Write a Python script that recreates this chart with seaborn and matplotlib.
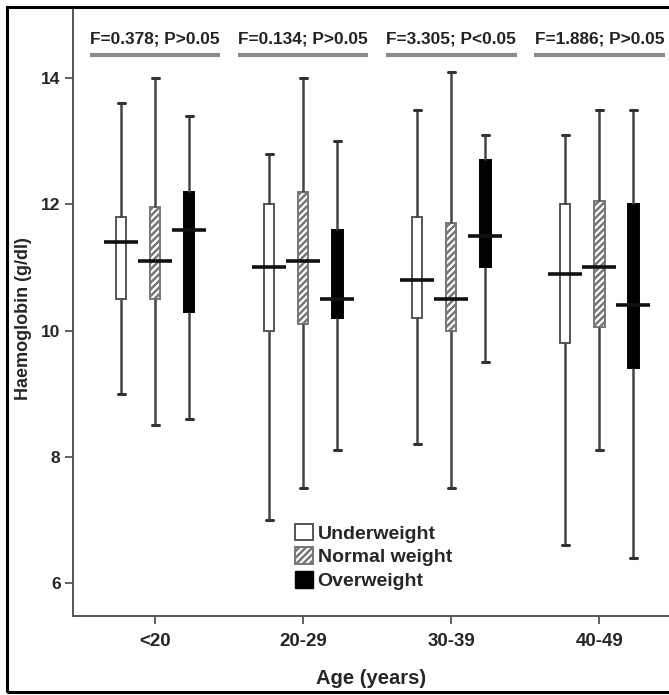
import numpy as np
import pandas as pd
import seaborn as sns
import matplotlib.pyplot as plt
from matplotlib.patches import Patch, Rectangle

# categories
age_groups = ["<20", "20-29", "30-39", "40-49"]
bmi_groups = ["Underweight", "Normal weight", "Overweight"]

# five-number summaries per BMI group, one value per age group
uw_min = [9.0, 7.0, 8.2, 6.6]
uw_q1 = [10.5, 10.0, 10.2, 9.8]
uw_med = [11.4, 11.0, 10.8, 10.9]
uw_q3 = [11.8, 12.0, 11.8, 12.0]
uw_max = [13.6, 12.8, 13.5, 13.1]

nw_min = [8.5, 7.5, 7.5, 8.1]
nw_q1 = [10.5, 10.1, 10.0, 10.05]
nw_med = [11.1, 11.1, 10.5, 11.0]
nw_q3 = [11.95, 12.2, 11.7, 12.05]
nw_max = [14.0, 14.0, 14.1, 13.5]

ow_min = [8.6, 8.1, 9.5, 6.4]
ow_q1 = [10.3, 10.2, 11.0, 9.4]
ow_med = [11.6, 10.5, 11.5, 10.4]
ow_q3 = [12.2, 11.6, 12.7, 12.0]
ow_max = [13.4, 13.0, 13.1, 13.5]

# ANOVA labels above each age group
anova_labels = ["F=0.378; P>0.05", "F=0.134; P>0.05", "F=3.305; P<0.05", "F=1.886; P>0.05"]

summaries = {
    "Underweight": (uw_min, uw_q1, uw_med, uw_q3, uw_max),
    "Normal weight": (nw_min, nw_q1, nw_med, nw_q3, nw_max),
    "Overweight": (ow_min, ow_q1, ow_med, ow_q3, ow_max),
}

# Five points per box: linear percentiles of [min, q1, med, q3, max]
# give exactly q1 / median / q3, and whis=(0, 100) puts whiskers at min/max
rows = []
for bmi, stats in summaries.items():
    for i, age in enumerate(age_groups):
        for s in stats:
            rows.append({"Age": age, "BMI": bmi, "Hb": s[i]})
df = pd.DataFrame(rows)

sns.set_theme(style="ticks")
plt.rcParams["font.family"] = ["Liberation Sans", "DejaVu Sans"]
plt.rcParams["font.weight"] = "bold"
plt.rcParams["hatch.linewidth"] = 1.8

fig = plt.figure(figsize=(6.69, 6.95), dpi=100)
ax = fig.add_axes([73 / 669, 79 / 695, 596 / 669, 608 / 695])

sns.boxplot(data=df, x="Age", y="Hb", hue="BMI", order=age_groups,
            hue_order=bmi_groups, whis=(0, 100), width=0.69, gap=0.7,
            palette=["white", "white", "black"], linecolor="#333333",
            linewidth=1.4, legend=False, ax=ax)

face = {0: "white", 1: "white", 2: "black"}
edge = {0: "#555555", 1: "#777777", 2: "black"}
hatch = {0: None, 1: "/////", 2: None}
step = 0.69 / 3

for p in ax.patches:
    xc = p.get_path().vertices[:, 0].mean()
    k = int(round((xc - round(xc)) / step)) + 1
    p.set_facecolor(face[k])
    p.set_edgecolor(edge[k])
    p.set_hatch(hatch[k])
    p.set_linewidth(1.4)

for c in ax.containers:
    for m in getattr(c, "medians", []):
        xc = np.mean(m.get_xdata())
        m.set_xdata([xc - 0.115, xc + 0.115])
        m.set_color("#111111")
        m.set_linewidth(2.6)
        m.set_zorder(5)
    for cap in getattr(c, "caps", []):
        xc = np.mean(cap.get_xdata())
        cap.set_xdata([xc - 0.025, xc + 0.025])
        cap.set_color("#333333")
        cap.set_linewidth(2.2)
    for w in getattr(c, "whiskers", []):
        w.set_color("#444444")
        w.set_linewidth(1.8)

ax.set_xlim(-0.556, 3.47)
ax.set_ylim(5.477, 15.11)
ax.set_yticks([6, 8, 10, 12, 14])
ax.set_yticklabels(["6", "8", "10", "12", "14"])

for i, lab in enumerate(anova_labels):
    ax.text(i, 14.62, lab, ha="center", va="center", fontsize=12.4,
            fontweight="bold", color="#222222")
    ax.hlines(14.37, i - 0.44, i + 0.44, color="#8a8a8a", linewidth=3)

ax.set_xlabel("Age (years)", fontsize=14.5, fontweight="bold", labelpad=14)
ax.set_ylabel("Haemoglobin (g/dl)", fontsize=13, fontweight="bold")
ax.yaxis.set_label_coords(-0.068, 0.49)
ax.tick_params(axis="both", length=6, width=1.3, color="#555555", pad=3)
ax.tick_params(axis="y", labelsize=12.5)
ax.tick_params(axis="x", labelsize=13.5, pad=6)
for t in ax.get_xticklabels() + ax.get_yticklabels():
    t.set_fontweight("bold")

sns.despine(ax=ax)
for s in ("left", "bottom"):
    ax.spines[s].set_color("#555555")
    ax.spines[s].set_linewidth(1.4)

handles = [
    Patch(facecolor="white", edgecolor="#555555", linewidth=1.4, label="Underweight"),
    Patch(facecolor="white", edgecolor="#777777", hatch="/////", linewidth=1.4, label="Normal weight"),
    Patch(facecolor="black", edgecolor="black", label="Overweight"),
]
ax.legend(handles=handles, loc="upper left", bbox_to_anchor=(0.372, 0.152),
          frameon=False, handlelength=0.93, handleheight=0.93,
          handletextpad=0.25, labelspacing=0.25, borderpad=0, borderaxespad=0,
          prop={"weight": "bold", "size": 14})

# outer frame round the whole picture
fig.patches.append(Rectangle((7 / 669, 3 / 695), 1.0, 685 / 695, transform=fig.transFigure,
                             fill=False, edgecolor="black", linewidth=2.2, clip_on=False))

plt.savefig("out.png", dpi=100)
